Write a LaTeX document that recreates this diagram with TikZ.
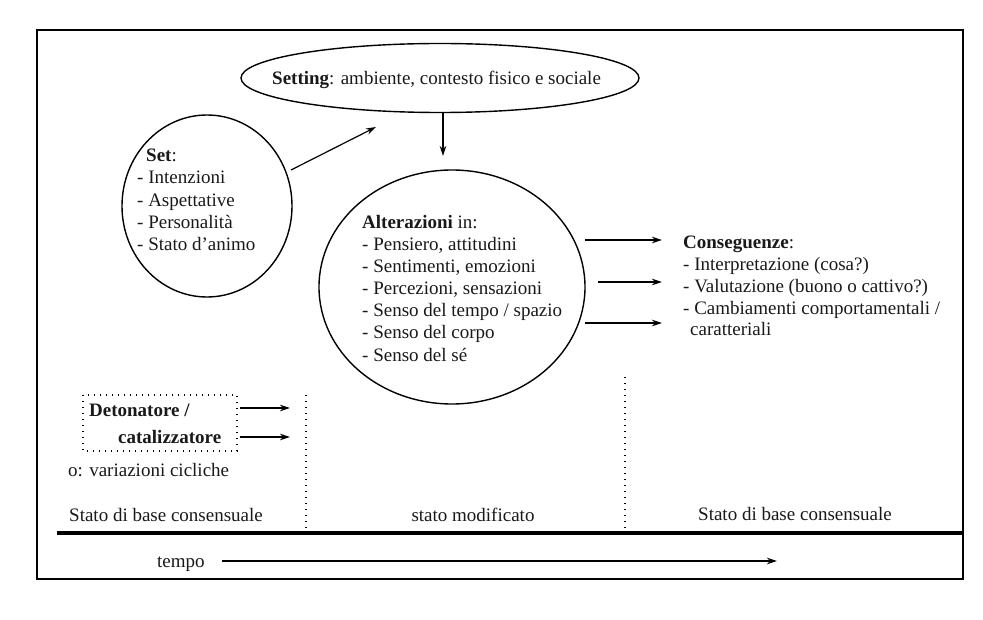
\documentclass[tikz,border=0pt]{standalone}
\usepackage{fontspec}
\setmainfont{Liberation Serif}
\usetikzlibrary{arrows.meta,shapes.geometric}
\begin{document}
\begin{tikzpicture}[x=1pt,y=-1pt,
  every node/.style={font=\fontsize{19}{22.2}\selectfont, inner sep=0pt, text=black!90},
  conn/.style={line width=1.2pt, -{Stealth[length=10pt,width=6.5pt]}},
  txt/.style={align=left, anchor=base west},
  outline/.style={line width=1.4pt},
  dotline/.style={line width=1.7pt, dash pattern=on 1.4pt off 4.6pt}
]
\useasboundingbox (0,0) rectangle (983,620);
\draw[line width=1.8pt] (37,30) rectangle (963,579);
\draw[line width=3.2pt] (57,533) -- (963,533);

% Setting ellipse
\node[ellipse, draw, outline, minimum width=398, minimum height=69] (setting) at (440,78) {};
\node[anchor=base west] (settingtxt) at (272,85) {\textbf{Setting}: ambiente, contesto fisico e sociale};

% Set circle (last line baseline given)
\node[ellipse, draw, outline, minimum width=170, minimum height=182] (set) at (207,206) {};
\node[txt] (settitle) at (146,162) {\textbf{Set}:};
\node[txt] (setlist) at (137,250.6) {- Intenzioni\\- Aspettative\\- Personalità\\- Stato d'animo};

% Alterazioni circle
\node[ellipse, draw, outline, minimum width=266, minimum height=234] (alt) at (452,287) {};
\node[txt] (alttxt) at (362,361.2) {\textbf{Alterazioni} in:\\- Pensiero, attitudini\\- Sentimenti, emozioni\\- Percezioni, sensazioni\\- Senso del tempo / spazio\\- Senso del corpo\\- Senso del sé};

% Conseguenze
\node[txt, font=\fontsize{19}{21.7}\selectfont] (cons) at (683,335.8) {\textbf{Conseguenze}:\\- Interpretazione (cosa?)\\- Valutazione (buono o cattivo?)\\- Cambiamenti comportamentali /\\\hspace*{7pt}caratteriali};

% connectors
\coordinate (setA) at (291,170);
\coordinate (setB) at (376,127);
\draw[conn] (setA) -- (setB);
\coordinate (stA) at (443,113);
\coordinate (stB) at (443,156);
\draw[conn] (stA) -- (stB);
\coordinate (c1a) at (585,240); \coordinate (c1b) at (662,240);
\coordinate (c2a) at (598,282); \coordinate (c2b) at (662,282);
\coordinate (c3a) at (585,323); \coordinate (c3b) at (662,323);
\draw[conn] (c1a) -- (c1b);
\draw[conn] (c2a) -- (c2b);
\draw[conn] (c3a) -- (c3b);

% Detonatore box
\draw[dotline] (83,395) rectangle (237,451);
\node[txt, font=\bfseries\fontsize{19}{27}\selectfont] (det) at (89,443) {Detonatore /\\\hspace*{29pt}catalizzatore};
\coordinate (d1a) at (240,408); \coordinate (d1b) at (290,408);
\coordinate (d2a) at (240,437); \coordinate (d2b) at (290,437);
\draw[conn] (d1a) -- (d1b);
\draw[conn] (d2a) -- (d2b);
\node[anchor=base west] (var) at (68,476) {o: variazioni cicliche};

% dotted separators
\draw[dotline] (306,395) -- (306,531);
\draw[dotline] (625,377) -- (625,530);

% bottom labels
\node[anchor=base west] (b1) at (69,521) {Stato di base consensuale};
\node[anchor=base] (b2) at (473,521) {stato modificato};
\node[anchor=base west] (b3) at (698,520) {Stato di base consensuale};

% tempo
\node[anchor=base west] (tempo) at (157,567) {tempo};
\coordinate (tA) at (222,561); \coordinate (tB) at (777,561);
\draw[conn] (tA) -- (tB);
\end{tikzpicture}
\end{document}
